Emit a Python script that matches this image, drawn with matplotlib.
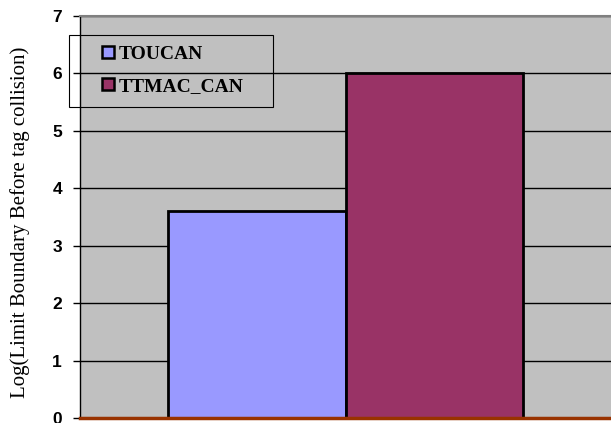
import matplotlib.pyplot as plt
from matplotlib.lines import Line2D
from matplotlib.patches import Rectangle

# Log of the limit boundary before a tag collision, per protocol
protocols = ['TOUCAN', 'TTMAC_CAN']
log_boundary = [3.6, 6.0]
bar_colors = ['#9999ff', '#993366']
y_ticks = [0, 1, 2, 3, 4, 5, 6, 7]

fig = plt.figure(figsize=(6.11, 4.23), dpi=100)
ax = fig.add_axes([80 / 611, 5 / 423, 531 / 611, 402 / 423])
ax.set_facecolor('#c0c0c0')

width = 0.335
offsets = [-width / 2, width / 2]
for off, val, col in zip(offsets, log_boundary, bar_colors):
    ax.bar(off, val, width=width, color=col, edgecolor='black', linewidth=2, zorder=3)

ax.set_xlim(-0.5, 0.5)
ax.set_ylim(0, 7)
ax.set_yticks(y_ticks)
ax.set_yticklabels([str(t) for t in y_ticks], fontweight='bold', fontsize=12.5,
                   family='Liberation Sans')
ax.set_xticks([])
ax.yaxis.grid(True, color='black', linewidth=1, zorder=1)
ax.set_axisbelow(True)
ax.tick_params(axis='y', length=5, width=1, direction='out', pad=8)

ax.spines['top'].set_color('#808080')
ax.spines['top'].set_linewidth(1.5)
ax.spines['right'].set_visible(False)
ax.spines['left'].set_color('black')
ax.spines['left'].set_linewidth(1)
ax.spines['bottom'].set_color('#993300')
ax.spines['bottom'].set_linewidth(2.5)
ax.spines['bottom'].set_zorder(4)

fig.text(20 / 611, 1 - 222 / 423, 'Log(Limit Boundary Before tag collision)',
         family='Liberation Serif', fontsize=15, rotation=90, ha='center', va='center')

# legend box drawn separately so it can be wider than its entries
fig.patches.append(Rectangle((69 / 611, 1 - 107 / 423), 204 / 611, 72 / 423,
                             transform=fig.transFigure, fill=False,
                             edgecolor='black', linewidth=0.8, zorder=5))

handles = [Line2D([], [], linestyle='none', marker='s', markersize=8,
                  markerfacecolor=c, markeredgecolor='black', markeredgewidth=1.8)
           for c in bar_colors]
leg = ax.legend(handles, protocols, loc='upper left',
                bbox_to_anchor=(102 / 611, 1 - 45 / 423), bbox_transform=fig.transFigure,
                borderaxespad=0, borderpad=0, frameon=False, handlelength=0.6,
                handletextpad=0.25, labelspacing=0.75,
                prop={'family': 'Liberation Serif', 'weight': 'bold', 'size': 14})

fig.savefig('out.png', dpi=100)
